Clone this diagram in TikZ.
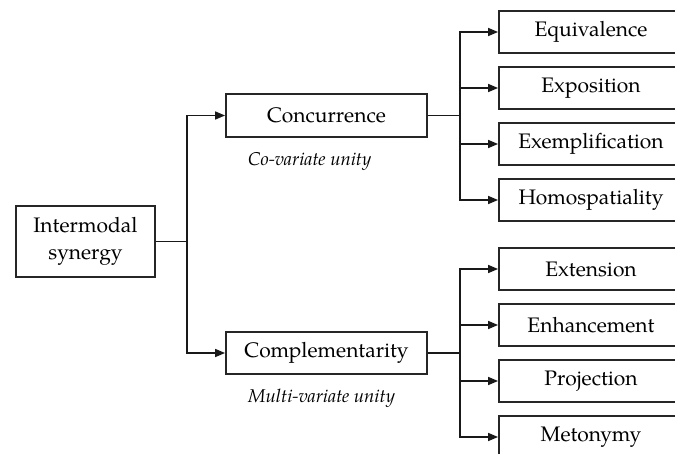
\documentclass[tikz,border=0pt]{standalone}
\usepackage{fontspec}
\setmainfont{texgyrepagella}[Extension=.otf,UprightFont=*-regular,ItalicFont=*-italic,BoldFont=*-bold,BoldItalicFont=*-bolditalic]
\usetikzlibrary{arrows.meta}
\begin{document}
\begin{tikzpicture}[x=1pt,y=-1pt,
  box/.style={draw=black!85, line width=1.8pt, minimum height=42pt, inner sep=0pt, font=\fontsize{21}{27}\selectfont},
  conn/.style={draw=black!90, line width=1.6pt},
  arr/.style={conn,-{Triangle[length=10pt,width=8pt]}},
  lab/.style={anchor=west, inner sep=0pt, font=\fontsize{18.5}{22}\selectfont\itshape}]
\useasboundingbox (0,0) rectangle (675,454);
\clip (0,0) rectangle (675,454);
\node[box, minimum width=139pt, minimum height=71pt, align=center] (im) at (85.5,241.5) {Intermodal\\synergy};
\node[box, minimum width=201pt, minimum height=43pt] (conc) at (326.5,115.5) {Concurrence};
\node[box, minimum width=201pt] (comp) at (326.5,353) {Complementarity};
\node[lab] (cv) at (248,162) {Co-variate unity};
\node[lab] (mv) at (248,398) {Multi-variate unity};
\node[box, minimum width=184pt] (r1) at (591,32) {Equivalence};
\node[box, minimum width=184pt] (r2) at (591,88) {Exposition};
\node[box, minimum width=184pt] (r3) at (591,144) {Exemplification};
\node[box, minimum width=184pt] (r4) at (591,200) {Homospatiality};
\node[box, minimum width=184pt] (s1) at (591,269) {Extension};
\node[box, minimum width=184pt] (s2) at (591,325) {Enhancement};
\node[box, minimum width=184pt] (s3) at (591,381) {Projection};
\node[box, minimum width=184pt] (s4) at (591,437) {Metonymy};
\coordinate (j1) at (187,241.5);
\coordinate (j2) at (460,115.5);
\coordinate (j3) at (460,353);
\draw[conn] (im.east) -- (j1);
\draw[arr] (j1) |- (conc.west);
\draw[arr] (j1) |- (comp.west);
\draw[conn] (conc.east) -- (j2);
\draw[conn] (comp.east) -- (j3);
\foreach \n in {r1,r2,r3,r4} \draw[arr] (j2) |- (\n.west);
\foreach \n in {s1,s2,s3,s4} \draw[arr] (j3) |- (\n.west);
\end{tikzpicture}
\end{document}
